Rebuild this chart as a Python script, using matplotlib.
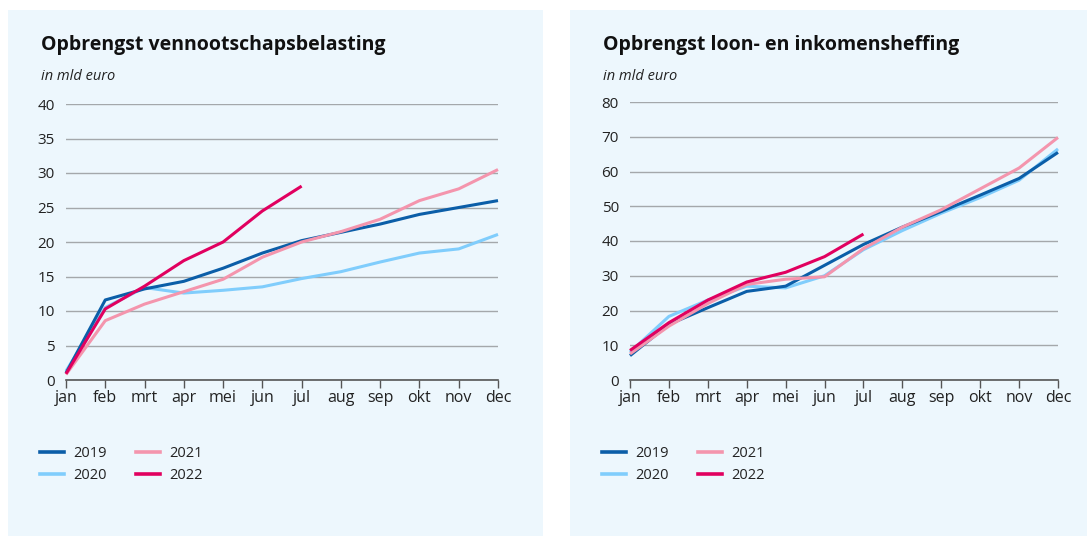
import matplotlib
matplotlib.use("Agg")
import matplotlib.pyplot as plt
from matplotlib.patches import Rectangle
from matplotlib.lines import Line2D

months = ["jan", "feb", "mrt", "apr", "mei", "jun", "jul", "aug", "sep", "okt", "nov", "dec"]
years = ["2019", "2020", "2021", "2022"]

vpb_2019 = [1.0, 11.6, 13.2, 14.3, 16.2, 18.4, 20.2, 21.4, 22.6, 24.0, 25.0, 26.0]
vpb_2020 = [1.3, 10.5, 13.4, 12.6, 13.0, 13.5, 14.7, 15.7, 17.1, 18.4, 19.0, 21.1]
vpb_2021 = [0.8, 8.6, 11.0, 12.8, 14.6, 17.8, 20.0, 21.5, 23.3, 26.0, 27.7, 30.5]
vpb_2022 = [0.9, 10.3, 13.6, 17.3, 20.0, 24.5, 28.1]

lb_2019 = [7.0, 16.0, 20.8, 25.5, 27.0, 33.0, 39.0, 44.0, 48.5, 53.2, 58.0, 65.5]
lb_2020 = [8.0, 18.3, 23.0, 27.0, 26.5, 30.0, 37.5, 43.0, 48.0, 52.5, 57.5, 66.5]
lb_2021 = [7.5, 15.5, 22.0, 27.5, 29.0, 29.7, 37.8, 44.0, 49.0, 55.0, 61.0, 69.8]
lb_2022 = [8.5, 16.5, 23.0, 28.2, 31.0, 35.5, 42.0]

colors = {"2019": "#0b5ea8", "2020": "#80cdfc", "2021": "#f495ad", "2022": "#e1005f"}
zorders = {"2019": 3, "2020": 2, "2021": 4, "2022": 5}

plt.rcParams["font.family"] = ["Open Sans", "DejaVu Sans"]

W, H = 1087, 536
fig = plt.figure(figsize=(W / 100, H / 100), dpi=100)
fig.patch.set_facecolor("white")

panel_bg = "#edf7fd"
fig.patches.append(Rectangle((8 / W, 0), (543 - 8) / W, 1 - 10 / H, transform=fig.transFigure,
                             facecolor=panel_bg, edgecolor="none", zorder=-5))
fig.patches.append(Rectangle((570 / W, 0), (1087 - 570) / W, 1 - 10 / H, transform=fig.transFigure,
                             facecolor=panel_bg, edgecolor="none", zorder=-5))


def make_panel(left_px, right_px, top_px, bottom_px, series, ymax, ystep, title, title_x):
    ax = fig.add_axes([left_px / W, 1 - bottom_px / H, (right_px - left_px) / W, (bottom_px - top_px) / H])
    ax.set_facecolor("none")
    x = list(range(12))
    for yr, vals in zip(years, series):
        ax.plot(x[:len(vals)], vals, color=colors[yr], lw=2.2, zorder=zorders[yr],
                solid_capstyle="butt", solid_joinstyle="round", clip_on=False)
    ax.set_xlim(0, 11)
    ax.set_ylim(0, ymax)
    yt = list(range(0, ymax + 1, ystep))
    ax.set_yticks(yt)
    ax.set_yticklabels([str(v) for v in yt], fontsize=11, color="#222222")
    ax.set_xticks(x)
    ax.set_xticklabels(months, fontsize=11.5, color="#222222")
    ax.yaxis.grid(True, color="#a4a8ab", lw=1.0)
    ax.set_axisbelow(True)
    for s in ["top", "right", "left"]:
        ax.spines[s].set_visible(False)
    ax.spines["bottom"].set_color("#555555")
    ax.spines["bottom"].set_linewidth(1.2)
    ax.tick_params(axis="y", length=0, pad=8)
    ax.tick_params(axis="x", length=6, width=1.0, color="#555555", pad=1, direction="out")
    fig.text(title_x / W, 1 - 45 / H, title, fontsize=14, fontweight="bold", color="#111111",
             ha="left", va="center")
    fig.text(title_x / W, 1 - 77 / H, "in mld euro", fontsize=10.5, style="italic", color="#222222",
             ha="left", va="center")
    handles = [Line2D([], [], color=colors[yr], lw=2.6) for yr in years]
    leg = fig.legend(handles, years, loc="upper left",
                     bbox_to_anchor=((title_x - 14) / W, 1 - 433 / H), ncol=2, frameon=False,
                     fontsize=10.5, handlelength=1.65, handletextpad=0.62, columnspacing=2.0,
                     labelspacing=0.5)
    for t in leg.get_texts():
        t.set_color("#222222")
    return ax


make_panel(66, 498, 104, 380, [vpb_2019, vpb_2020, vpb_2021, vpb_2022], 40, 5,
           "Opbrengst vennootschapsbelasting", 41)
make_panel(630, 1058, 102, 380, [lb_2019, lb_2020, lb_2021, lb_2022], 80, 10,
           "Opbrengst loon- en inkomensheffing", 603)

fig.savefig("out.png", dpi=100, facecolor="white")
